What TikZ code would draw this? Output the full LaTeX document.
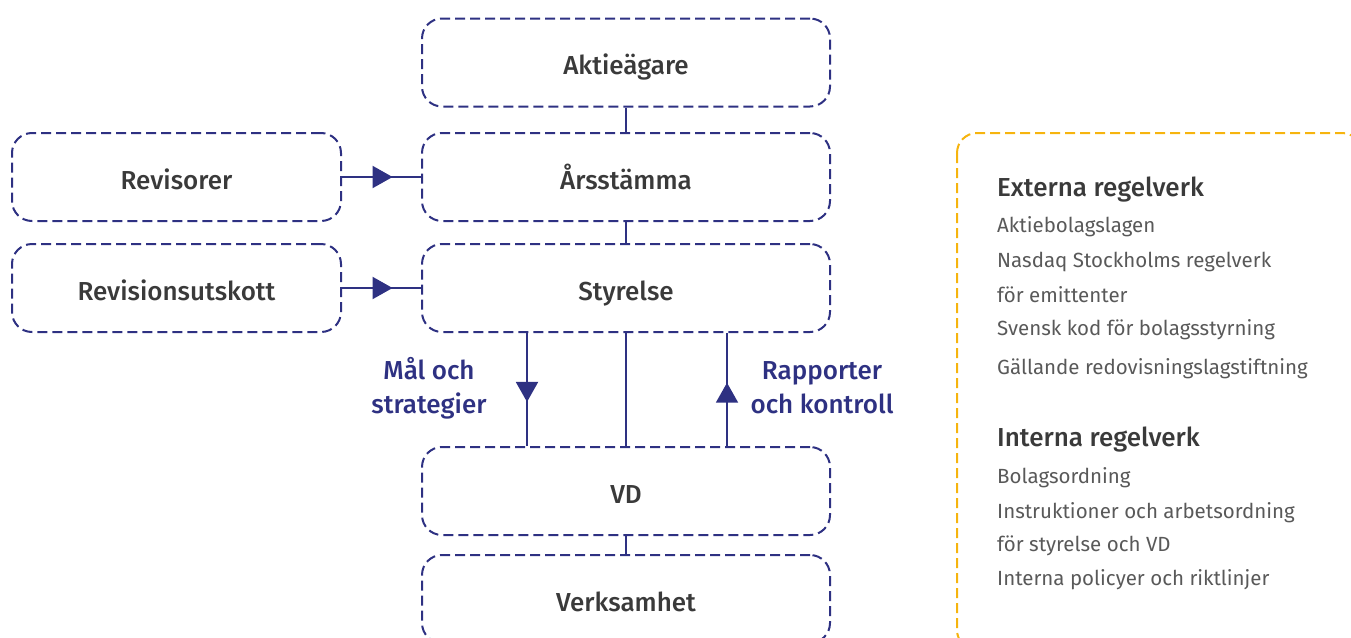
\documentclass[tikz,border=0pt]{standalone}
\usepackage{fontspec}
\setmainfont{Fira Sans}
\newfontfamily\medfont{Fira Sans Medium}
\usetikzlibrary{arrows.meta}
\usetikzlibrary{decorations.markings}

\definecolor{navy}{HTML}{2E3182}
\definecolor{gul}{HTML}{F6B40E}
\definecolor{morkgra}{HTML}{3A3A3A}
\definecolor{ljusgra}{HTML}{595959}

\tikzset{
  orgbox/.style={draw=navy, line width=2pt, dash pattern=on 10pt off 5pt,
    rounded corners=20pt, minimum height=88pt, text=morkgra,
    text height=24pt, text depth=0pt,
    font=\fontsize{26}{30}\medfont},
  midbox/.style={orgbox, minimum width=408pt},
  sidebox/.style={orgbox, minimum width=329pt},
  link/.style={draw=navy, line width=2pt},
  midarrow/.style={link, decoration={markings,
    mark=at position #1 with {\arrow{Triangle[length=20pt,width=22pt]}}},
    postaction={decorate}},
  flowlabel/.style={text=navy, align=center,
    font=\fontsize{26}{34}\medfont},
  rubrik/.style={anchor=west, inner sep=0pt, text=morkgra,
    font=\fontsize{26}{30}\medfont},
  punkt/.style={anchor=west, inner sep=0pt, text=ljusgra,
    font=\fontsize{20.5}{24}\selectfont}
}

\begin{document}
\begin{tikzpicture}[x=1pt,y=-1pt]
    \useasboundingbox (0,0) rectangle (1351,637);

    % mittkolumnen
    \node[midbox] (aktieagare) at (626,62.5) {Aktieägare};
    \node[midbox] (arsstamma) at (626,177) {Årsstämma};
    \node[midbox] (styrelse) at (626,288) {Styrelse};
    \node[midbox] (vd) at (626,491) {VD};
    \node[midbox] (verksamhet) at (626,599) {Verksamhet};

    % vänster
    \node[sidebox] (revisorer) at (176.5,177) {Revisorer};
    \node[sidebox] (utskott) at (176.5,288) {Revisionsutskott};

    \draw[link] (aktieagare) -- (arsstamma);
    \draw[link] (arsstamma) -- (styrelse);
    \draw[link] (styrelse) -- (vd);
    \draw[link] (vd) -- (verksamhet);
    \draw[midarrow=0.64] (revisorer) -- (arsstamma);
    \draw[midarrow=0.64] (utskott) -- (styrelse);
    \draw[midarrow=0.61] (styrelse.south -| 527,0) -- (vd.north -| 527,0);
    \draw[midarrow=0.56] (vd.north -| 727,0) -- (styrelse.south -| 727,0);

    \node[flowlabel] (malstrategi) at (429,388) {Mål och\\strategier};
    \node[flowlabel] (rapporter) at (822,388) {Rapporter\\och kontroll};

    % regelverk
    \draw[draw=gul, line width=2pt, dash pattern=on 10pt off 5pt, rounded corners=20pt]
        (957,133) rectangle (1362,650);
    \node[rubrik] (externa) at (997,190) {Externa regelverk};
    \node[punkt] (abl) at (997,227) {Aktiebolagslagen};
    \node[punkt] (nasdaq) at (997,262) {Nasdaq Stockholms regelverk};
    \node[punkt] (emittent) at (997,295) {för emittenter};
    \node[punkt] (kod) at (997,330) {Svensk kod för bolagsstyrning};
    \node[punkt] (redovisning) at (997,369) {Gällande redovisningslagstiftning};
    \node[rubrik] (interna) at (997,440) {Interna regelverk};
    \node[punkt] (bolagsordning) at (997,478) {Bolagsordning};
    \node[punkt] (instruktioner) at (997,513) {Instruktioner och arbetsordning};
    \node[punkt] (forstyrelse) at (997,546) {för styrelse och VD};
    \node[punkt] (policyer) at (997,580) {Interna policyer och riktlinjer};
\end{tikzpicture}
\end{document}
